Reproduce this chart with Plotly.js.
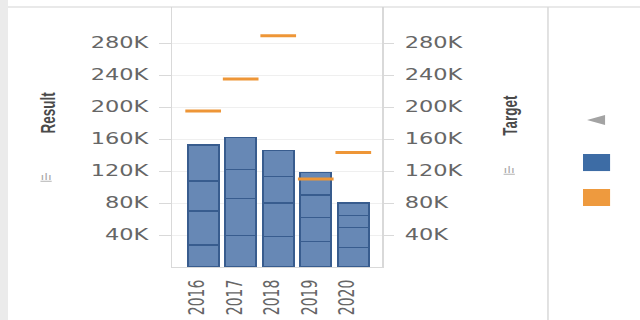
<!DOCTYPE html>
<html><head><meta charset="utf-8">
<script src="https://cdn.plot.ly/plotly-3.0.1.min.js"></script>
<style>
html,body{margin:0;padding:0;width:640px;height:320px;overflow:hidden;background:#fff;}
#chart{width:427px;height:320px;transform:scaleX(1.49883);transform-origin:0 0;}
</style></head><body><div id="chart"></div>
<script>
const years = ['2016','2017','2018','2019','2020'];
const resultSeg1 = [27500, 39000, 38000, 32000, 24000];
const resultSeg2 = [42500, 47000, 42000, 30000, 25500];
const resultSeg3 = [37500, 36000, 33000, 28000, 14500];
const resultSeg4 = [45000, 40000, 33000, 28000, 16000];
const target = [195000, 235000, 289000, 110000, 143000];
const tickValues = [40000, 80000, 120000, 160000, 200000, 240000, 280000];
const tickLabels = ['40K','80K','120K','160K','200K','240K','280K'];

const barFill = '#6788b5', barEdge = '#385c8e', orange = '#ee9637';
const segs = [resultSeg1, resultSeg2, resultSeg3, resultSeg4];
const traces = segs.map(s => ({
  type: 'bar', x: years, y: s, width: 0.83, showlegend: false,
  marker: {color: barFill, line: {color: barEdge, width: 1.3}},
  hoverinfo: 'skip'
}));
traces.push({
  type: 'scatter', mode: 'markers', x: years, y: target, yaxis: 'y2', showlegend: false,
  marker: {symbol: 'line-ew', size: 17, color: orange, line: {color: orange, width: 3}},
  hoverinfo: 'skip'
});

const tickFont = {family: 'DejaVu Sans', size: 15, color: '#666'};
const yCommon = {
  range: [0, 325000], tickvals: tickValues, ticktext: tickLabels, tickfont: tickFont,
  showline: true, linecolor: '#d9d9d9', linewidth: 1, ticks: 'outside', tickcolor: '#d9d9d9',
  zeroline: false, fixedrange: true
};
const titleFont = {family: 'Liberation Sans, Arial', size: 13.5, color: '#4a4a4a'};
const iconFont = {family: 'DejaVu Sans', size: 9, color: '#aaa'};

const layout = {
  width: 427, height: 320, autosize: false,
  margin: {l: 115, r: 172, t: 7, b: 53, pad: 0},
  paper_bgcolor: '#fff', plot_bgcolor: '#fff',
  barmode: 'stack', bargap: 0.17,
  xaxis: {
    type: 'category', range: [-0.82, 4.77], showline: true, linecolor: '#d9d9d9', linewidth: 1,
    ticks: '', tickangle: -90, showgrid: false, zeroline: false, fixedrange: true,
    tickfont: {family: 'DejaVu Sans', size: 14, color: '#666'}, ticklabelstandoff: 6, ticklabelshift: -4
  },
  yaxis: Object.assign({}, yCommon, {showgrid: true, gridcolor: '#efefef', ticklen: 8, ticklabelstandoff: 4}),
  yaxis2: Object.assign({}, yCommon, {overlaying: 'y', side: 'right', showgrid: false, ticklen: 7, ticklabelstandoff: 4}),
  shapes: [
    {type: 'rect', xref: 'paper', yref: 'paper', x0: -0.8214, x1: -0.7833, y0: -0.21, y1: 1.03, fillcolor: '#ebebeb', line: {width: 0}, layer: 'below'},
    {type: 'line', xref: 'paper', yref: 'paper', x0: -0.7833, x1: 2.23, y0: 1.0, y1: 1.0, line: {color: '#d4d4d4', width: 1}},
    {type: 'line', xref: 'paper', yref: 'paper', x0: 1.790, x1: 1.790, y0: -0.21, y1: 1.0, line: {color: '#d9d9d9', width: 1}},
    {type: 'path', xref: 'paper', yref: 'paper', path: 'M1.976,0.5654 L2.062,0.5846 L2.062,0.5462 Z', fillcolor: '#a3a3a3', line: {width: 0}},
    {type: 'rect', xref: 'paper', yref: 'paper', x0: 1.957, x1: 2.086, y0: 0.369, y1: 0.4346, fillcolor: '#3d6ca5', line: {width: 0}},
    {type: 'rect', xref: 'paper', yref: 'paper', x0: 1.957, x1: 2.086, y0: 0.2346, y1: 0.30, fillcolor: '#ee9a3e', line: {width: 0}}
  ],
  annotations: [
    {text: '<b>Result</b>', xref: 'paper', yref: 'paper', x: -0.597, y: 0.596, xanchor: 'center', yanchor: 'middle', textangle: -90, showarrow: false, font: titleFont},
    {text: '<b>Target</b>', xref: 'paper', yref: 'paper', x: 1.609, y: 0.583, xanchor: 'center', yanchor: 'middle', textangle: -90, showarrow: false, font: titleFont},
    {text: '<span style="text-decoration:underline">ılı</span>', xref: 'paper', yref: 'paper', x: -0.597, y: 0.346, xanchor: 'center', yanchor: 'middle', showarrow: false, font: iconFont},
    {text: '<span style="text-decoration:underline">ılı</span>', xref: 'paper', yref: 'paper', x: 1.609, y: 0.373, xanchor: 'center', yanchor: 'middle', showarrow: false, font: iconFont}
  ]
};
Plotly.newPlot('chart', traces, layout, {displayModeBar: false, staticPlot: true});
</script></body></html>
